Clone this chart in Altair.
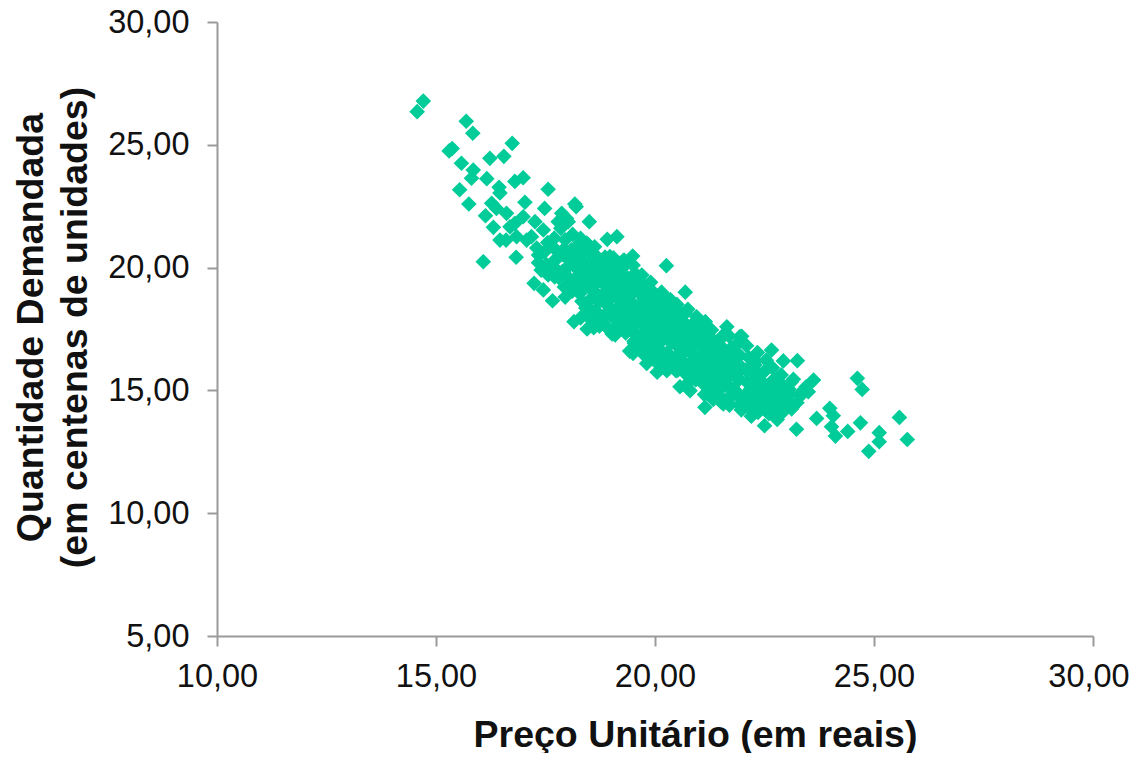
import altair as alt
import pandas as pd

preco = [
14.71,14.57,15.69,15.84,15.30,15.37,16.74,16.23,16.55,15.58,15.85,15.81,16.16,16.99,16.80,15.54,17.56,15.75,
16.44,16.46,17.03,18.17,18.20,17.48,16.27,16.13,16.38,16.61,16.99,17.87,18.50,16.31,16.69,16.80,17.26,17.45,
17.79,18.02,16.46,16.60,16.84,17.07,17.18,18.91,19.13,18.30,19.49,16.08,16.83,17.34,17.34,17.24,17.45,17.66,17.56,
20.26,20.69,24.62,24.73,25.58,25.76,25.12,25.12,24.88,24.69,24.40,24.12,24.03,24.07,23.99,23.69,23.23,23.62,23.25,
22.93,22.50,22.79,22.66,21.97,21.14,21.56,20.57,20.80,20.05,20.27,21.64,21.29,21.94,21.98,19.50,19.09,19.81,
17.62,17.70,17.78,17.85,17.92,17.98,18.05,18.12,18.18,18.25,18.30,18.38,18.44,18.50,18.56,18.62,18.70,18.76,
17.55,17.68,17.80,17.90,18.02,18.10,18.22,18.34,18.42,18.55,18.66,18.74,18.82,18.90,18.97,19.05,
17.95,18.08,18.18,18.28,18.40,18.48,18.58,18.68,18.78,18.86,18.95,19.02,19.12,19.20,19.28,19.36,
18.30,18.42,18.52,18.64,18.72,18.84,18.92,19.00,19.10,19.18,19.26,19.34,19.42,19.50,19.58,19.66,
18.60,18.74,18.86,18.98,19.08,19.16,19.24,19.32,19.40,19.48,19.56,19.64,19.72,19.80,19.88,19.96,
19.02,19.14,19.22,19.30,19.38,19.46,19.54,19.62,19.70,19.78,19.86,19.94,20.02,20.10,20.18,20.26,
19.42,19.52,19.60,19.68,19.76,19.84,19.92,20.00,20.08,20.16,20.24,20.32,20.40,20.48,20.56,20.64,
19.78,19.90,20.00,20.10,20.20,20.30,20.38,20.46,20.54,20.62,20.70,20.78,20.86,20.94,21.02,21.10,
20.24,20.36,20.48,20.58,20.68,20.76,20.84,20.92,21.00,21.08,21.16,21.24,21.32,21.40,21.48,21.56,
20.78,20.90,21.02,21.12,21.22,21.32,21.42,21.52,21.62,21.72,21.82,21.90,
21.26,21.38,21.48,21.60,21.70,21.80,21.90,22.00,22.10,22.20,22.30,22.38,
21.50,21.68,21.84,21.96,22.08,22.18,22.28,22.38,22.48,22.58,22.70,22.80,
22.02,22.14,22.26,22.36,22.46,22.56,22.66,22.76,22.86,22.96,23.06,23.16,23.30,23.45,
22.20,22.40,22.60,22.72,22.90,23.02,23.12,23.24,23.36,23.50,
17.52,17.47,17.55,17.71,17.68,17.74,17.93,17.88,17.90,17.95,18.11,18.06,18.13,18.09,18.33,18.28,18.31,18.27,
18.52,18.46,18.53,18.49,18.55,18.48,18.73,18.66,18.71,18.69,18.74,18.93,18.87,18.92,18.88,18.91,18.86,
19.13,19.07,19.11,19.08,19.14,19.09,19.33,19.27,19.31,19.28,19.34,19.29,19.53,19.46,19.51,19.48,19.54,19.47,
19.73,19.66,19.71,19.68,19.74,19.69,19.92,19.87,19.91,19.88,19.94,19.86,20.13,20.07,20.11,20.08,20.14,20.09,
20.33,20.27,20.31,20.28,20.34,20.29,20.52,20.46,20.51,20.48,20.54,20.47,20.73,20.66,20.71,20.68,20.74,20.69,
20.93,20.87,20.91,20.88,20.94,21.13,21.07,21.11,21.08,21.14,21.09,21.33,21.27,21.31,21.28,21.34,21.29,
21.52,21.46,21.51,21.48,21.54,21.47,21.73,21.66,21.71,21.68,21.74,21.69,21.93,21.87,21.91,21.88,21.94,21.89,
22.13,22.07,22.11,22.08,22.14,22.09,22.33,22.27,22.31,22.28,22.34,22.52,22.46,22.51,22.48,22.54,
22.73,22.66,22.71,22.68,22.93,22.87,22.91,22.88,23.13,23.07,23.11,
19.05,19.30,19.50,19.70,19.90,20.15,20.35,20.50,20.75,20.95,21.15,
17.30,17.40,18.15,18.45,21.70,22.00,22.35,22.60,
]
quantidade = [
26.78,26.35,25.96,25.47,24.75,24.85,25.06,24.45,24.53,24.25,23.97,23.64,23.62,23.66,23.51,23.17,23.19,22.59,
23.27,23.04,22.66,22.59,22.48,22.41,22.62,22.11,22.41,22.21,22.07,22.21,21.87,21.64,21.66,21.80,21.87,21.53,
21.87,21.87,21.12,21.12,21.26,21.12,21.26,21.15,21.26,21.19,20.47,20.24,20.42,20.51,20.20,19.36,19.09,18.65,19.70,
20.08,19.00,15.49,15.04,13.90,13.00,13.28,12.91,12.52,13.68,13.33,13.14,13.52,13.97,14.27,13.86,13.42,15.42,16.21,
16.20,13.56,13.82,16.64,14.21,14.31,14.45,15.15,14.99,15.74,15.80,17.59,17.46,17.19,17.20,16.51,17.26,16.10,
20.90,21.20,20.40,21.60,20.75,22.00,20.30,21.35,20.60,20.95,20.35,20.70,21.00,20.20,20.55,20.85,20.40,20.10,
19.90,20.25,19.60,19.85,20.05,19.35,19.95,19.65,20.15,19.45,19.85,20.25,19.55,20.05,20.45,19.75,
18.80,19.15,19.55,18.95,19.30,19.70,19.10,19.50,18.85,19.30,19.65,19.05,19.45,19.90,20.30,19.60,
17.95,18.35,18.70,18.20,18.60,18.05,18.45,18.90,18.25,18.70,19.10,18.50,18.95,19.30,19.70,19.15,
17.55,17.85,17.65,18.10,17.45,17.95,18.35,17.70,18.15,18.55,18.00,18.40,18.85,19.25,18.65,19.00,
17.30,17.60,17.95,17.45,17.85,18.25,17.65,18.05,18.50,17.90,18.30,18.70,18.15,18.55,18.90,18.35,
16.60,17.00,16.75,17.25,16.90,17.40,17.80,17.20,17.65,18.05,17.50,17.90,18.30,17.75,18.15,17.60,
16.40,16.85,16.20,16.65,17.10,16.50,16.95,17.35,16.75,17.20,17.60,17.05,17.45,17.85,17.30,17.70,
15.95,16.35,15.80,16.25,16.65,16.05,16.50,16.90,16.30,16.75,17.15,16.60,17.00,16.45,16.85,17.25,
15.35,15.75,15.55,16.00,15.45,15.90,16.30,15.70,16.15,16.55,16.00,16.45,
14.95,15.30,14.75,15.20,15.60,15.05,15.50,15.90,15.35,15.80,16.20,15.65,
14.55,14.70,14.90,14.40,14.65,15.05,14.50,14.85,15.25,14.70,15.10,15.50,
14.30,14.65,14.95,14.35,14.75,15.10,14.55,14.90,15.30,14.65,15.05,15.45,14.85,15.15,
13.95,14.30,14.05,14.40,14.10,14.60,14.25,14.50,14.85,14.95,
20.12,20.63,21.02,19.62,20.04,20.71,19.21,19.83,20.52,21.13,19.04,19.53,20.12,20.72,18.63,19.34,19.81,20.43,
17.91,18.42,19.13,19.72,20.24,20.93,17.62,18.21,18.83,19.42,20.03,17.52,18.04,18.63,19.24,19.82,20.43,
17.43,17.92,18.31,18.92,19.53,20.14,17.34,17.83,18.32,18.84,19.43,20.04,16.92,17.43,18.03,18.52,19.04,19.63,
16.73,17.22,17.71,18.24,18.72,19.33,16.44,16.93,17.42,17.94,18.53,19.02,16.22,16.73,17.24,17.72,18.33,18.84,
16.03,16.52,17.04,17.53,18.02,18.54,15.82,16.33,16.84,17.32,17.83,18.34,15.62,16.13,16.64,17.12,17.63,18.14,
15.43,15.94,16.42,16.93,17.44,14.83,15.32,15.84,16.33,16.82,17.23,14.63,15.14,15.62,16.13,16.64,17.12,
14.52,15.03,15.54,16.02,16.53,17.04,14.72,15.23,15.74,16.24,16.72,17.22,14.43,14.92,15.43,15.94,16.42,16.93,
14.33,14.84,15.32,15.83,16.34,16.82,14.53,15.04,15.52,16.03,16.54,14.24,14.72,15.23,15.74,16.23,
14.42,14.93,15.44,15.92,14.14,14.63,15.12,15.63,14.32,14.83,15.34,
20.40,20.30,20.10,19.70,19.40,19.00,18.70,18.50,18.30,18.00,17.80,
20.80,19.90,17.80,17.50,14.40,14.30,14.10,14.20,
]
x_ticks = [10, 15, 20, 25, 30]
y_ticks = [5, 10, 15, 20, 25, 30]
last_x_tick = [30]
last_x_label = ["30,00"]

df = pd.DataFrame({"preco": preco, "quantidade": quantidade})
fmt = "replace(format(datum.value, '.2f'), '.', ',')"
x_fmt = "datum.value == 30 ? '' : " + fmt
FONT = "Liberation Sans"
GREY = "#9A9A9A"
INK = "#111111"

points = (
    alt.Chart(df)
    .mark_point(shape="diamond", filled=True, size=245, opacity=1, color="#00CC99")
    .encode(
        x=alt.X("preco:Q", scale=alt.Scale(domain=[10, 30], nice=False, zero=False),
                axis=alt.Axis(values=x_ticks, labelExpr=x_fmt, grid=False, title="Preço Unitário (em reais)",
                              titleX=478, titleY=110, titleAnchor="middle", titleAlign="center",
                              titleBaseline="alphabetic",
                              labelPadding=14, tickSize=10, tickWidth=2, domainWidth=2,
                              domainColor=GREY, tickColor=GREY, labelColor=INK, titleColor=INK,
                              labelFontSize=32.5, titleFontSize=37.5, labelFont=FONT, titleFont=FONT,
                              titleFontWeight="bold", labelFlush=False, labelOverlap=False)),
        y=alt.Y("quantidade:Q", scale=alt.Scale(domain=[5, 30], nice=False, zero=False),
                axis=alt.Axis(values=y_ticks, labelExpr=fmt, grid=False,
                              title=["Quantidade Demandada", "(em centenas de unidades)"],
                              titleX=-175, titleY=305, titleAnchor="middle", titleAlign="center",
                              titleBaseline="alphabetic", titleLineHeight=44,
                              labelPadding=18, tickSize=10, tickWidth=2, domainWidth=2,
                              domainColor=GREY, tickColor=GREY, labelColor=INK, titleColor=INK,
                              labelFontSize=32.5, titleFontSize=37.5, labelFont=FONT, titleFont=FONT,
                              titleFontWeight="bold", labelOverlap=False)),
    )
)

last_label = (
    alt.Chart(pd.DataFrame({"x": last_x_tick, "t": last_x_label}))
    .mark_text(font=FONT, fontSize=32.5, color=INK, align="center", baseline="alphabetic", dx=-4)
    .encode(x=alt.X("x:Q"), y=alt.value(665), text="t:N")
)

chart = (
    alt.layer(points, last_label)
    .properties(width=876, height=614,
                autosize=alt.AutoSizeParams(type="none"),
                padding={"left": 209, "top": 14, "right": 36, "bottom": 117})
    .configure_view(stroke=None)
)

chart.save("out.html", embed_options={"renderer": "svg", "actions": False})
